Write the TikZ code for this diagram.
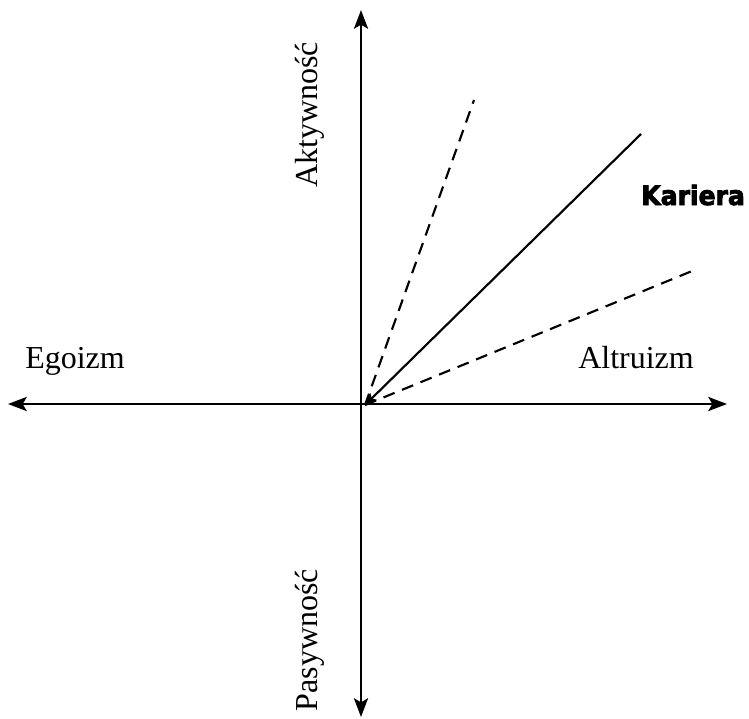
\documentclass[tikz,border=0pt]{standalone}
\usepackage{fontspec}
\setmainfont{Liberation Serif}
\newfontfamily\karfont[FakeBold=3,FakeStretch=0.94]{DejaVu Sans Bold}
\usetikzlibrary{arrows.meta}
\begin{document}
\begin{tikzpicture}[x=0.75pt,y=-0.75pt,
  axis/.style={line width=2pt,{Stealth[length=14pt,width=10.5pt,inset=3pt]}-{Stealth[length=14pt,width=10.5pt,inset=3pt]}},
  ray/.style={line width=1.6pt},
  dray/.style={line width=1.6pt,dash pattern=on 9pt off 6pt},
  lbl/.style={font=\fontsize{24}{28}\selectfont,inner sep=0pt},
  kar/.style={font=\karfont\fontsize{20}{23}\selectfont,inner sep=0pt}]
\useasboundingbox (0,0) rectangle (749,718);
\coordinate (O) at (362,404);
\coordinate (L) at (8,404);
\coordinate (R) at (727,404);
\coordinate (T) at (361,10);
\coordinate (B) at (361,717);
\coordinate (Os) at (365,405);
\coordinate (D1) at (474,100);
\coordinate (S) at (641,134);
\coordinate (D2) at (697,269);
\draw[axis] (L) -- (R);
\draw[axis] (B) -- (T);
\draw[dray] (Os) -- (D1);
\draw[dray] (Os) -- (D2);
\draw[ray,-{Stealth[length=9pt,width=7pt,inset=2pt]}] (S) -- (Os);
\node[lbl,anchor=base west] (ego) at (25,368) {Egoizm};
\node[lbl,anchor=base west] (alt) at (578,368) {Altruizm};
\node[lbl,rotate=90] (akt) at (310,115) {Aktywność};
\node[lbl,rotate=90] (pas) at (310,640) {Pasywność};
\node[kar,anchor=base west] (kar) at (641,205) {Kariera};
\end{tikzpicture}
\end{document}
